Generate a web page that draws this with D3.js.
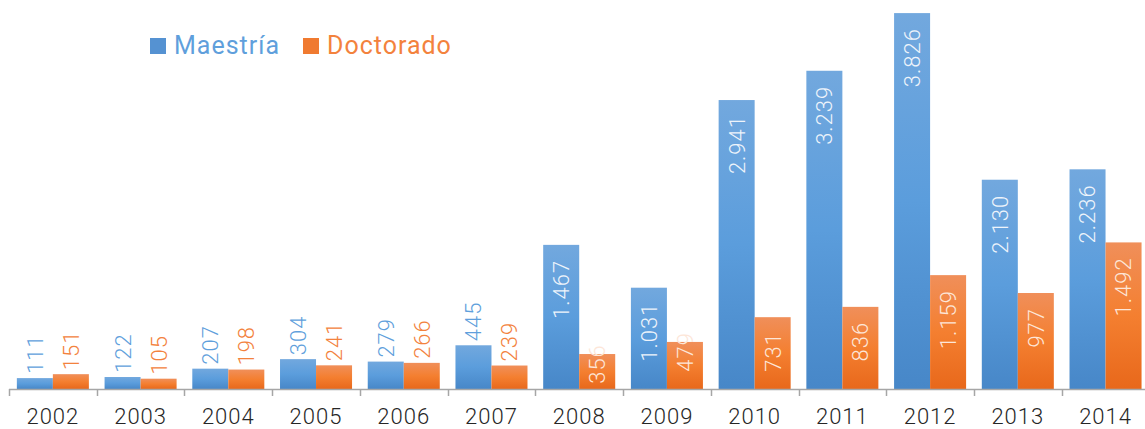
<!DOCTYPE html>
<html>
<head>
    <meta charset="utf-8">
    <title>Maestría y Doctorado</title>
    <style>
        body { margin: 0; background: #fff; }
        text { font-family: Roboto, "Open Sans", sans-serif; }
    </style>
</head>
<body>
    <script src="https://d3js.org/d3.v7.min.js"></script>
    <script>
    // data
    var years = ["2002", "2003", "2004", "2005", "2006", "2007", "2008",
                 "2009", "2010", "2011", "2012", "2013", "2014"];
    var series = ["Maestría", "Doctorado"];
    var maestria = [111, 122, 207, 304, 279, 445, 1467, 1031, 2941, 3239, 3826, 2130, 2236];
    var doctorado = [151, 105, 198, 241, 266, 239, 356, 479, 731, 836, 1159, 977, 1492];
    // labels sit inside the bars from this year on
    var insideFrom = "2008";

    const width = 1145;
    const height = 429;
    const baseY = 389;

    var fmt = d3.formatLocale({decimal: ",", thousands: ".", grouping: [3], currency: ["", ""]}).format(",d");

    const svg = d3.select("body").append("svg")
        .attr("width", width)
        .attr("height", height);

    // gradients
    var defs = svg.append("defs");
    var grads = [
        {id: "gBlue", stops: ["#72a8de", "#5b9ddc", "#4787c8"]},
        {id: "gOrange", stops: ["#f08f5a", "#f47f30", "#e8681b"]}
    ];
    grads.forEach(function(g) {
        var lg = defs.append("linearGradient").attr("id", g.id)
            .attr("x1", 0).attr("y1", 0).attr("x2", 0).attr("y2", 1);
        g.stops.forEach(function(c, i) {
            lg.append("stop").attr("offset", (i / (g.stops.length - 1) * 100) + "%").attr("stop-color", c);
        });
    });
    var fills = {"Maestría": "url(#gBlue)", "Doctorado": "url(#gOrange)"};
    var labelColors = {"Maestría": "#5f9fdc", "Doctorado": "#f3823d"};
    var insideColors = {"Maestría": "#eef4fb", "Doctorado": "#fde6d8"};
    var legendFills = {"Maestría": "#5592d2", "Doctorado": "#f07a30"};

    var x0 = d3.scaleBand().domain(years).range([9, 1149.4]).padding(0);
    var x1 = d3.scaleBand().domain(series).range([0, x0.bandwidth()]).paddingInner(0).paddingOuter(0.218);
    var y = d3.scaleLinear().domain([0, 4000]).range([baseY, -4]);

    var rows = years.map(function(yr, i) {
        return {year: yr, values: [
            {key: "Maestría", value: maestria[i]},
            {key: "Doctorado", value: doctorado[i]}
        ]};
    });

    var groups = svg.selectAll("g.year")
        .data(rows)
        .enter().append("g")
        .attr("class", "year")
        .attr("transform", function(d) { return "translate(" + x0(d.year) + ",0)"; });

    groups.selectAll("rect")
        .data(function(d) { return d.values; })
        .enter().append("rect")
        .attr("x", function(d) { return x1(d.key); })
        .attr("y", function(d) { return y(d.value); })
        .attr("width", x1.bandwidth())
        .attr("height", function(d) { return baseY - y(d.value); })
        .attr("fill", function(d) { return fills[d.key]; });

    // value labels
    groups.each(function(row) {
        var g = d3.select(this);
        var inside = +row.year >= +insideFrom;
        row.values.forEach(function(d) {
            var cx = x1(d.key) + x1.bandwidth() / 2;
            var top = y(d.value);
            var t = g.append("text")
                .attr("dy", "0.36em")
                .style("font-size", "22px")
                .style("font-weight", 300)
                .style("letter-spacing", "1px")
                .text(fmt(d.value));
            if (!inside) {
                t.attr("text-anchor", "start")
                    .attr("fill", labelColors[d.key])
                    .attr("transform", "translate(" + cx + "," + (top - 4) + ") rotate(-90)");
            } else {
                var len = t.node().getComputedTextLength();
                t.attr("fill", insideColors[d.key]);
                if (baseY - top > len + 30) {
                    t.attr("text-anchor", "end")
                        .attr("transform", "translate(" + cx + "," + (top + 15) + ") rotate(-90)");
                } else {
                    t.attr("text-anchor", "middle")
                        .attr("transform", "translate(" + cx + "," + (top + 10) + ") rotate(-90)");
                }
            }
        });
    });

    // x axis
    var axis = svg.append("g");
    axis.append("line")
        .attr("x1", 9).attr("x2", width)
        .attr("y1", baseY + 0.5).attr("y2", baseY + 0.5)
        .attr("stroke", "#a6a6a6").attr("stroke-width", 1.5);
    axis.selectAll("line.tick")
        .data(years)
        .enter().append("line")
        .attr("class", "tick")
        .attr("x1", function(d) { return Math.round(x0(d)) + 0.5; })
        .attr("x2", function(d) { return Math.round(x0(d)) + 0.5; })
        .attr("y1", baseY).attr("y2", baseY + 7)
        .attr("stroke", "#a6a6a6").attr("stroke-width", 1.5);
    axis.selectAll("text")
        .data(years)
        .enter().append("text")
        .attr("x", function(d) { return x0(d) + x0.bandwidth() / 2; })
        .attr("y", 424)
        .attr("text-anchor", "middle")
        .attr("fill", "#262626")
        .style("font-size", "22px")
        .style("font-weight", 300)
        .style("letter-spacing", "1px")
        .text(function(d) { return d; });

    // legend
    var legend = svg.append("g").attr("transform", "translate(150,38)");
    var legendX = [0, 153];
    series.forEach(function(s, i) {
        var lg = legend.append("g").attr("transform", "translate(" + legendX[i] + ",0)");
        lg.append("rect").attr("width", 16).attr("height", 16).attr("fill", legendFills[s]);
        lg.append("text")
            .attr("x", 24).attr("y", 16)
            .attr("fill", labelColors[s])
            .style("font-size", "25px")
            .style("letter-spacing", "1px")
            .text(s);
    });
    </script>
</body>
</html>
